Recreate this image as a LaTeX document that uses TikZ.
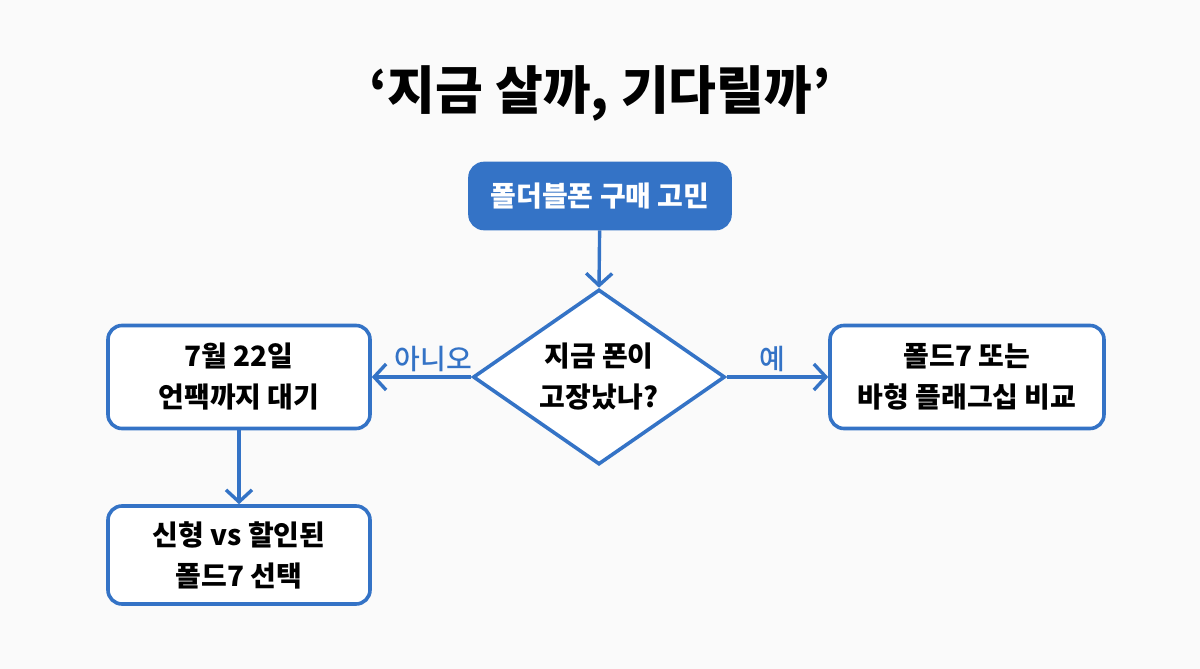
\documentclass[tikz,border=0pt]{standalone}
\usepackage{fontspec}
\setmainfont{Noto Sans CJK KR}
\newfontfamily\krmedium{Noto Sans CJK KR Medium}
\usetikzlibrary{arrows.meta,shapes.geometric}
\definecolor{flowblue}{HTML}{3473C6}
\definecolor{paper}{HTML}{FAFAFA}

\begin{document}
\begin{tikzpicture}[x=1pt,y=-1pt,
    box/.style={draw=flowblue, line width=3.6pt, rounded corners=14pt, fill=white,
                align=center, font=\fontsize{28}{41}\selectfont\bfseries, text=black},
    startbox/.style={box, fill=flowblue, text=white},
    decide/.style={diamond, shape aspect=1.44, draw=flowblue, line width=3.6pt, fill=white, inner sep=0pt,
                align=center, font=\fontsize{28}{41}\selectfont\bfseries, text=black},
    flow/.style={flowblue, line width=3.4pt, -{Straight Barb[length=12pt,width=26pt]}},
    answer/.style={text=flowblue, font=\fontsize{28}{30}\krmedium}]
    \fill[paper] (0,0) rectangle (1200,669);
    \node[font=\fontsize{52}{56}\selectfont\bfseries] (title) at (600,93) {‘지금 살까, 기다릴까’};
    % boxes
    \node[startbox, minimum width=260pt, minimum height=65pt] (start) at (600,196) {폴더블폰 구매 고민};
    \node[decide, minimum width=252pt, minimum height=175pt] (broken) at (599,377) {지금 폰이\\고장났나?};
    \node[box, minimum width=262pt, minimum height=103pt] (wait) at (239,377) {7월 22일\\언팩까지 대기};
    \node[box, minimum width=274pt, minimum height=103pt] (compare) at (967,377) {폴드7 또는\\바형 플래그십 비교};
    \node[box, minimum width=262pt, minimum height=98pt] (choose) at (239,555) {신형 vs 할인된\\폴드7 선택};
    % arrows
    \draw[flow] (start) -- (broken.north);
    \draw[flow] (broken.west) -- (wait.east) node[answer, pos=0.38, above=0pt] (no) {아니오};
    \draw[flow] (broken.east) -- (compare.west) node[answer, pos=0.45, above=0pt] (yes) {예};
    \draw[flow] (wait) -- (choose);
\end{tikzpicture}
\end{document}
